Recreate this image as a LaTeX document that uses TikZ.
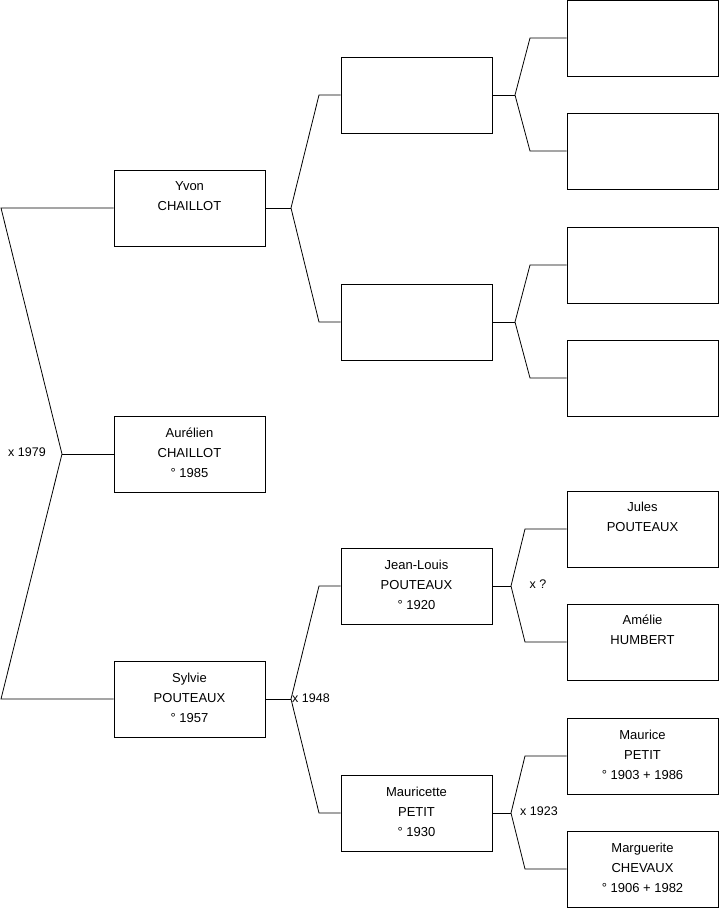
\documentclass[tikz,border=0pt]{standalone}
\usepackage{fontspec}
\setmainfont{Liberation Sans}
\begin{document}
\begin{tikzpicture}[x=1pt,y=-1pt,
  person/.style={draw=black,line width=0.8pt,rectangle,minimum width=151pt,minimum height=76pt,inner sep=0pt,align=center,font=\fontsize{13}{20}\selectfont},
  ptext/.style={inner sep=0pt,align=center,font=\fontsize{13}{20}\selectfont},
  link/.style={draw=black,line width=0.8pt},
  marr/.style={font=\fontsize{12.5}{15}\selectfont,inner sep=0pt}]
\useasboundingbox (0,0) rectangle (719,908);
% generation 1
\node[person] (yvon) at (189.5,208) {};
\node[person] (aur) at (189.5,454) {};
\node[person] (syl) at (189.5,699) {};
% generation 2
\node[person] (p1) at (416.5,95) {};
\node[person] (p2) at (416.5,322) {};
\node[person] (jl) at (416.5,586) {};
\node[person] (mau) at (416.5,813) {};
% generation 3
\node[person] (g1) at (642.5,38) {};
\node[person] (g2) at (642.5,151) {};
\node[person] (g3) at (642.5,265) {};
\node[person] (g4) at (642.5,378) {};
\node[person] (jul) at (642.5,529) {};
\node[person] (ame) at (642.5,642) {};
\node[person] (mce) at (642.5,756) {};
\node[person] (mgt) at (642.5,869) {};
% texts (raised slightly as in the reference)
\node[ptext] (tyvon) at ([yshift=2pt]yvon.center) {Yvon\\CHAILLOT\\\mbox{}};
\node[ptext] (taur) at ([yshift=1.5pt]aur.center) {Aurélien\\CHAILLOT\\° 1985};
\node[ptext] (tsyl) at ([yshift=1.5pt]syl.center) {Sylvie\\POUTEAUX\\° 1957};
\node[ptext] (tjl) at ([yshift=1.5pt]jl.center) {Jean-Louis\\POUTEAUX\\° 1920};
\node[ptext] (tmau) at ([yshift=1.5pt]mau.center) {Mauricette\\PETIT\\° 1930};
\node[ptext] (tjul) at ([yshift=2pt]jul.center) {Jules\\POUTEAUX\\\mbox{}};
\node[ptext] (tame) at ([yshift=2pt]ame.center) {Amélie\\HUMBERT\\\mbox{}};
\node[ptext] (tmce) at ([yshift=1.5pt]mce.center) {Maurice\\PETIT\\° 1903 + 1986};
\node[ptext] (tmgt) at ([yshift=1.5pt]mgt.center) {Marguerite\\CHEVAUX\\° 1906 + 1982};
% fork coordinates
\coordinate (f0) at (62,454);
\coordinate (f0a) at (1,208);
\coordinate (f0b) at (1,699);
\coordinate (f1) at (291,208);
\coordinate (f1a) at (319,95);
\coordinate (f1b) at (319,322);
\coordinate (f2) at (515,95);
\coordinate (f2a) at (530,38);
\coordinate (f2b) at (530,151);
\coordinate (f3) at (515,322);
\coordinate (f3a) at (530,265);
\coordinate (f3b) at (530,378);
\coordinate (f4) at (291,699);
\coordinate (f4a) at (319,586);
\coordinate (f4b) at (319,813);
\coordinate (f5) at (511,586);
\coordinate (f5a) at (525,529);
\coordinate (f5b) at (525,642);
\coordinate (f6) at (511,813);
\coordinate (f6a) at (525,756);
\coordinate (f6b) at (525,869);
% connectors
\draw[link] (yvon.west) -- (f0a) -- (f0) -- (f0b) -- (syl.west);
\draw[link] (f0) -- (aur.west);
\draw[link] (yvon.east) -- (f1);
\draw[link] (p1.west) -- (f1a) -- (f1) -- (f1b) -- (p2.west);
\draw[link] (p1.east) -- (f2);
\draw[link] (g1.west) -- (f2a) -- (f2) -- (f2b) -- (g2.west);
\draw[link] (p2.east) -- (f3);
\draw[link] (g3.west) -- (f3a) -- (f3) -- (f3b) -- (g4.west);
\draw[link] (syl.east) -- (f4);
\draw[link] (jl.west) -- (f4a) -- (f4) -- (f4b) -- (mau.west);
\draw[link] (jl.east) -- (f5);
\draw[link] (jul.west) -- (f5a) -- (f5) -- (f5b) -- (ame.west);
\draw[link] (mau.east) -- (f6);
\draw[link] (mce.west) -- (f6a) -- (f6) -- (f6b) -- (mgt.west);
% marriage labels
\node[marr] (m0) at (27,452) {x 1979};
\node[marr,anchor=west] (m1) at (292,698) {x 1948};
\node[marr] (m2) at (538,584) {x ?};
\node[marr] (m3) at (539,811) {x 1923};
\end{tikzpicture}
\end{document}
